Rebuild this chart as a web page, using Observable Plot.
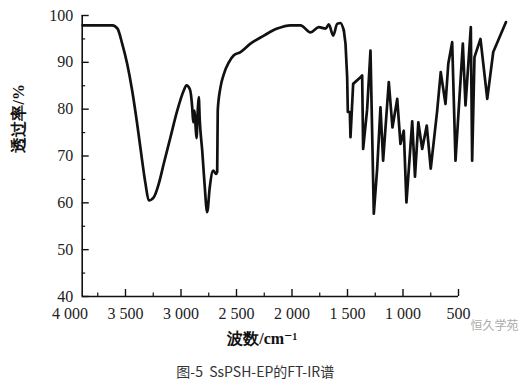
<!DOCTYPE html>
<html><head><meta charset="utf-8">
<script src="https://cdn.jsdelivr.net/npm/d3@7"></script>
<script src="https://cdn.jsdelivr.net/npm/@observablehq/plot@0.6"></script>
<style>
body{margin:0;background:#fff}
svg text.serifnum, .serifnum text { font-family: "Liberation Serif", "DejaVu Serif", serif !important; }
</style>
</head><body><div id="chart"></div>
<script>
const wavenumber = [3887,3617,3572,3530,3485,3440,3395,3350,3320,3290,
 3245,3200,3155,3095,3034,2975,2950,2921,2899,2890,
 2878,2869,2860,2849,2840,2831,2809,2788,2764,2741,
 2710,2686,2674,2669,2644,2614,2569,2524,2464,2374,
 2254,2133,2013,1923,1833,1758,1698,1668,1629,1593,
 1563,1533,1518,1503,1497,1479,1473,1449,1383,1368,
 1359,1323,1293,1263,1233,1203,1179,1128,1095,1052,
 1023,993,969,917,892,862,827,786,750,692,
 660,617,592,557,527,461,437,389,377,356,
 302,241,187,72];
const transmittance = [97.9,97.9,97.2,94,89.7,84,76.9,69,64.1,60.5,
 61.2,64.1,68.4,74,79.7,84,85.1,84.3,80.4,77.2,
 79.7,76.5,73.8,79.7,82.6,77.6,71.2,64.1,58,63.3,
 66.9,66.2,66.6,79.7,84.7,87.5,90,91.5,92.2,94,
 95.7,97.2,97.9,97.9,96.4,97.5,97.2,98.1,95.7,98.2,
 98.4,96.8,94,86.8,79.4,79.4,74,85.4,86.8,87.2,
 71.5,80,92.5,57.7,67.2,80.4,69,85.8,76.1,82.2,
 72.6,75.4,60.1,77.4,65.6,77.2,71.5,76.5,67.3,79.7,
 87.9,81.1,89.7,94.3,69,94,80.8,97.5,69,91.1,
 95,82.2,92.2,98.6];
const yMajor = [40,50,60,70,80,90,100];
const yMinor = [45,55,65,75,85,95];
const xLabels = [4000,3500,3000,2500,2000,1500,1000,500];
const xMajor = [3500,3000,2500,2000,1500,1000,500];
const xMinor = [3750,3250,2750,2250,1750,1250,750];
const xStart = 3890, xEnd = 500, yMin = 40, yMax = 100;
const smoothLimit = 1540; // above this wavenumber the trace is smooth
const yTitle = "透过率/%";
const xTitle = "波数/cm⁻¹";
const caption = "图-5  SsPSH-EP的FT-IR谱";
const watermark = "恒久学苑";

const data = wavenumber.map((w, i) => ({w, t: transmittance[i]}));
const smooth = data.filter(d => d.w >= smoothLimit - 10);
const rough = data.filter(d => d.w <= smoothLimit);
const fmt = v => v >= 1000 ? `${Math.floor(v / 1000)} ${String(v % 1000).padStart(3, "0")}` : String(v);

const mL = 69.5, mR = 64, mT = 15, mB = 95, W = 522, H = 391;
const unitX = 3500 / (W - mL - mR);   // cm-1 per pixel
const unitY = 60 / (H - mT - mB);      // % per pixel
const ink = "#111";
const cjk = "Noto Sans CJK SC";

const plot = Plot.plot({
  width: W, height: H,
  marginLeft: mL, marginRight: mR, marginTop: mT, marginBottom: mB,
  x: {domain: [4000, 500], axis: null},
  y: {domain: [40, 100], axis: null},
  style: {fontSize: "16px", background: "#fff", color: ink},
  marks: [
    Plot.ruleX([xStart], {y1: yMin, y2: yMax, stroke: ink, strokeWidth: 1.6}),
    Plot.ruleY([yMin], {x1: xStart, x2: xEnd, stroke: ink, strokeWidth: 1.6}),
    Plot.ruleY(yMajor, {y: d => d, x1: xStart, x2: xStart - 7 * unitX, stroke: ink, strokeWidth: 1.4}),
    Plot.ruleY(yMinor, {y: d => d, x1: xStart, x2: xStart - 3.5 * unitX, stroke: ink, strokeWidth: 1.2}),
    Plot.ruleX(xMajor, {x: d => d, y1: yMin, y2: yMin + 7 * unitY, stroke: ink, strokeWidth: 1.4}),
    Plot.ruleX(xMinor, {x: d => d, y1: yMin, y2: yMin + 3.5 * unitY, stroke: ink, strokeWidth: 1.2}),
    Plot.text(yMajor, {x: xStart, y: d => d, dx: -9, textAnchor: "end", text: d => String(d), fill: "#222", fontSize: 16, className: "serifnum"}),
    Plot.text(xLabels, {x: d => d, y: yMin, dy: 17, text: fmt, fill: "#222", fontSize: 16, className: "serifnum"}),
    Plot.line(smooth, {x: "w", y: "t", curve: "monotone-x", stroke: ink, strokeWidth: 2.7, strokeLinejoin: "round", strokeLinecap: "round"}),
    Plot.line(rough, {x: "w", y: "t", stroke: ink, strokeWidth: 2.7, strokeLinejoin: "round", strokeLinecap: "round"}),
    Plot.text([xTitle], {frameAnchor: "bottom", dx: -2, dy: 47, text: d => d, fontWeight: "bold", fontSize: 16, fill: ink, className: "serifnum"}),
    Plot.text([yTitle], {frameAnchor: "left", dx: -51.5, dy: -3.5, rotate: -90, text: d => d, fontWeight: "bold", fontSize: 16, fill: ink, className: "serifnum"}),
    Plot.text([caption], {frameAnchor: "bottom", dx: -9, dy: 80, text: d => d, fontFamily: cjk, fontSize: 14, fill: "#333"}),
    Plot.text([watermark], {frameAnchor: "bottom-right", textAnchor: "middle", dx: 36, dy: 33, text: d => d, fontFamily: cjk, fontSize: 12, fill: "#aaa"})
  ]
});
document.getElementById("chart").append(plot);
</script>
</body></html>
